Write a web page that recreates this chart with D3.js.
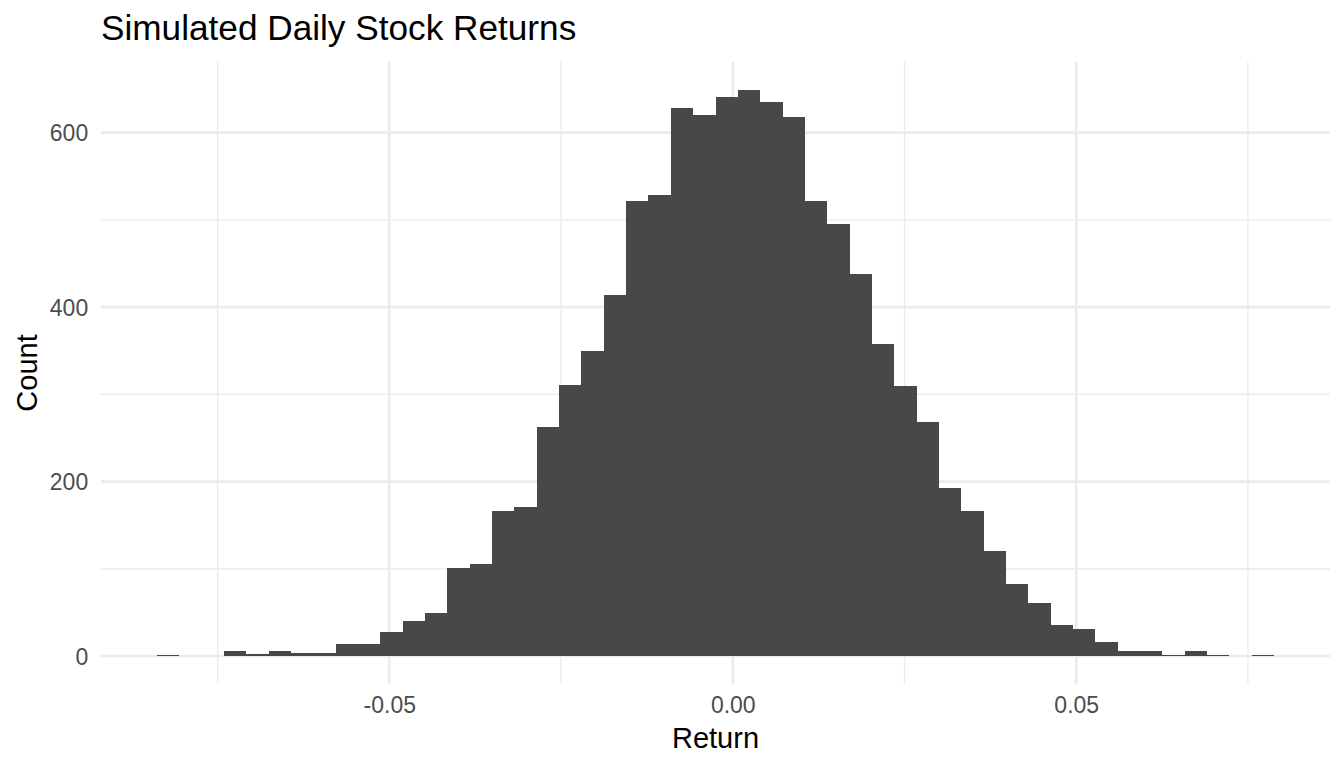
<!DOCTYPE html>
<html>
<head>
<meta charset="utf-8">
<script src="https://cdn.jsdelivr.net/npm/d3@7"></script>
<style>
  html, body { margin: 0; padding: 0; background: #fff; }
  svg { display: block; font-family: 'Liberation Sans', Arial, sans-serif; }
</style>
</head>
<body>
<div id="chart"></div>
<script>
(function(){
	'use strict';

	// histogram of simulated returns, 50 bins
	var binStart = -0.08384;
	var binWidth = 0.003253;
	var counts = [
		1, 0, 0, 6, 2, 6, 3, 3, 14, 14,
		27, 40, 49, 101, 105, 166, 171, 263, 311, 350,
		414, 522, 528, 628, 620, 641, 649, 635, 618, 522,
		495, 438, 358, 310, 268, 193, 166, 120, 83, 61,
		36, 31, 16, 6, 6, 1, 6, 1, 0, 1
	];
	var xMajor = [-0.05, 0.00, 0.05];
	var xMinor = [-0.075, -0.025, 0.025, 0.075];
	var yMajor = [0, 200, 400, 600];
	var yMinor = [100, 300, 500];

	var title = 'Simulated Daily Stock Returns';
	var xTitle = 'Return';
	var yTitle = 'Count';

	var W = 1344, H = 768;
	var panel = { left: 101, right: 1330, top: 61.6, bottom: 684.3 };

	var bins = counts.map(function(c, i){
		return { x0: binStart + i * binWidth, x1: binStart + (i + 1) * binWidth, count: c };
	});

	// ggplot-like 5% expansion
	var xLo = bins[0].x0, xHi = bins[bins.length - 1].x1;
	var xPad = 0.05 * (xHi - xLo);
	var yMax = d3.max(counts);
	var yPad = 0.05 * yMax;

	var x = d3.scaleLinear().domain([xLo - xPad, xHi + xPad]).range([panel.left, panel.right]);
	var y = d3.scaleLinear().domain([-yPad, yMax + yPad]).range([panel.bottom, panel.top]);

	// plain hyphen for negatives, like R
	var fmt2 = function(d){ return d3.format('.2f')(d).replace('\u2212', '-'); };

	var svg = d3.select('#chart').append('svg').attr('width', W).attr('height', H);

	var grid = svg.append('g');
	grid.selectAll('line.ymin').data(yMinor).enter().append('line')
		.attr('x1', panel.left).attr('x2', panel.right)
		.attr('y1', function(d){ return y(d); }).attr('y2', function(d){ return y(d); })
		.attr('stroke', '#EBEBEB').attr('stroke-width', 1.4);
	grid.selectAll('line.xmin').data(xMinor).enter().append('line')
		.attr('y1', panel.top).attr('y2', panel.bottom)
		.attr('x1', function(d){ return x(d); }).attr('x2', function(d){ return x(d); })
		.attr('stroke', '#EBEBEB').attr('stroke-width', 1.4);
	grid.selectAll('line.ymaj').data(yMajor).enter().append('line')
		.attr('x1', panel.left).attr('x2', panel.right)
		.attr('y1', function(d){ return y(d); }).attr('y2', function(d){ return y(d); })
		.attr('stroke', '#EBEBEB').attr('stroke-width', 2.7);
	grid.selectAll('line.xmaj').data(xMajor).enter().append('line')
		.attr('y1', panel.top).attr('y2', panel.bottom)
		.attr('x1', function(d){ return x(d); }).attr('x2', function(d){ return x(d); })
		.attr('stroke', '#EBEBEB').attr('stroke-width', 2.7);

	svg.append('g').selectAll('rect').data(bins).enter().append('rect')
		.attr('x', function(d){ return x(d.x0); })
		.attr('width', function(d){ return x(d.x1) - x(d.x0); })
		.attr('y', function(d){ return y(d.count); })
		.attr('height', function(d){ return y(0) - y(d.count); })
		.attr('fill', '#484848')
		.attr('shape-rendering', 'crispEdges');

	// axes: no lines or ticks, only labels (theme_minimal)
	var xAxis = svg.append('g')
		.attr('transform', 'translate(0,' + (panel.bottom + 6) + ')')
		.call(d3.axisBottom(x).tickValues(xMajor).tickSize(0).tickPadding(0).tickFormat(fmt2));
	xAxis.select('.domain').remove();
	xAxis.selectAll('text')
		.attr('dy', null).attr('y', 23.2)
		.attr('font-size', '23px').attr('fill', '#4D4D4D')
		.attr('font-family', "'Liberation Sans', Arial, sans-serif");

	var yAxis = svg.append('g')
		.attr('transform', 'translate(' + (panel.left - 12.8) + ',0)')
		.call(d3.axisLeft(y).tickValues(yMajor).tickSize(0).tickPadding(0));
	yAxis.select('.domain').remove();
	yAxis.selectAll('text')
		.attr('dy', '0.35em')
		.attr('font-size', '23px').attr('fill', '#4D4D4D')
		.attr('font-family', "'Liberation Sans', Arial, sans-serif");

	svg.append('text').text(title)
		.attr('x', panel.left).attr('y', 40)
		.attr('font-size', '35.2px').attr('fill', '#000');

	svg.append('text').text(xTitle)
		.attr('x', (panel.left + panel.right) / 2).attr('y', 748)
		.attr('text-anchor', 'middle')
		.attr('font-size', '29px').attr('fill', '#000');

	svg.append('text').text(yTitle)
		.attr('transform', 'translate(37,' + ((panel.top + panel.bottom) / 2) + ') rotate(-90)')
		.attr('text-anchor', 'middle')
		.attr('font-size', '29px').attr('fill', '#000');
})();
</script>
</body>
</html>
